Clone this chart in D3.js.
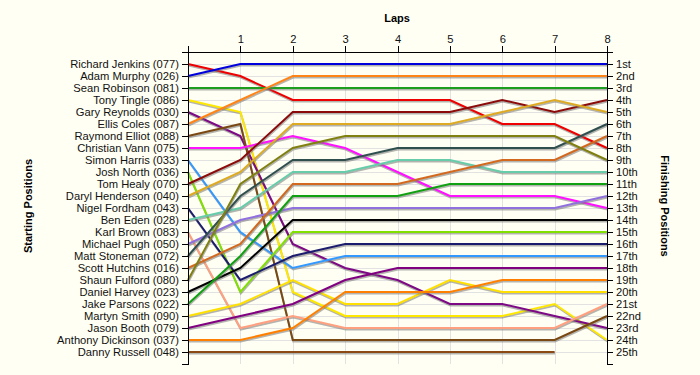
<!DOCTYPE html>
<html>
<head>
<meta charset="utf-8" />
<title>Race positions</title>
<style>
    body { margin: 0; background: #fffff4; }
    svg { display: block; font-family: "Liberation Sans", Arial, sans-serif; }
    .axis text { font-size: 11.2px; fill: #111; }
    .axis path, .axis line { stroke: #000; shape-rendering: crispEdges; }
    .grid line { stroke: #e2e2e2; shape-rendering: crispEdges; }
    .title { font-size: 11px; font-weight: bold; fill: #000; }
</style>
</head>
<body>
<svg width="700" height="375"></svg>
<script src="https://cdn.jsdelivr.net/npm/d3@7"></script>
<script>

var laps = [0, 1, 2, 3, 4, 5, 6, 7, 8];

var drivers = [
    'Richard Jenkins (077)', 'Adam Murphy (026)', 'Sean Robinson (081)', 'Tony Tingle (086)',
    'Gary Reynolds (030)', 'Ellis Coles (087)', 'Raymond Elliot (088)', 'Christian Vann (075)',
    'Simon Harris (033)', 'Josh North (036)', 'Tom Healy (070)', 'Daryl Henderson (040)',
    'Nigel Fordham (043)', 'Ben Eden (028)', 'Karl Brown (083)', 'Michael Pugh (050)',
    'Matt Stoneman (072)', 'Scott Hutchins (016)', 'Shaun Fulford (080)', 'Daniel Harvey (023)',
    'Jake Parsons (022)', 'Martyn Smith (090)', 'Jason Booth (079)', 'Anthony Dickinson (037)',
    'Danny Russell (048)'
];

var finishLabels = [
    '1st', '2nd', '3rd', '4th', '5th', '6th', '7th', '8th', '9th', '10th', '11th', '12th', '13th',
    '14th', '15th', '16th', '17th', '18th', '19th', '20th', '21st', '22nd', '23rd', '24th', '25th'
];

// position of each driver after each lap (lap 0 = start)
var positions = [
    [1, 2, 4, 4, 4, 4, 6, 6, 8],
    [2, 1, 1, 1, 1, 1, 1, 1, 1],
    [3, 3, 3, 3, 3, 3, 3, 3, 3],
    [4, 5, 20, 22, 22, 22, 22, 21, 24],
    [5, 7, 16, 18, 19, 21, 21, 22, 23],
    [6, 4, 2, 2, 2, 2, 2, 2, 2],
    [7, 6, 24, 24, 24, 24, 24, 24, 22],
    [8, 8, 7, 8, 10, 12, 12, 12, 13],
    [9, 15, 18, 17, 17, 17, 17, 17, 17],
    [10, 20, 15, 15, 15, 15, 15, 15, 15],
    [11, 9, 5, 5, 5, 5, 4, 5, 4],
    [12, 10, 6, 6, 6, 6, 5, 4, 5],
    [13, 19, 17, 16, 16, 16, 16, 16, 16],
    [14, 13, 10, 10, 9, 9, 10, 10, 10],
    [15, 23, 22, 23, 23, 23, 23, 23, 21],
    [16, 14, 13, 13, 13, 13, 13, 13, 12],
    [17, 12, 9, 9, 8, 8, 8, 8, 6],
    [18, 16, 11, 11, 11, 10, 9, 9, 7],
    [19, 11, 8, 7, 7, 7, 7, 7, 9],
    [20, 18, 14, 14, 14, 14, 14, 14, 14],
    [21, 17, 12, 12, 12, 11, 11, 11, 11],
    [22, 21, 19, 21, 21, 19, 20, 20, 20],
    [23, 22, 21, 19, 18, 18, 18, 18, 18],
    [24, 24, 23, 20, 20, 20, 19, 19, 19],
    [25, 25, 25, 25, 25, 25, 25, 25]
];

var colors = [
    '#ee0000', '#0000dd', '#1e9e1e', '#ffe800', '#7d0a84', '#ff8418', '#7a4812', '#ff10ff',
    '#3399ff', '#80e000', '#8b0a0a', '#ddaa22', '#1c1c6e', '#66ccaa', '#ffa080', '#9070dd',
    '#2f4f4f', '#d2691e', '#808010', '#000000', '#10a010', '#ffe000', '#800080', '#ff8000',
    '#8b4a14'
];

var svg = d3.select('svg');

var x = d3.scaleLinear().domain([0, 8]).range([188, 607]);
var y = d3.scaleLinear().domain([0, 26]).range([52, 364]);

// grid
var grid = svg.append('g').attr('class', 'grid');
grid.selectAll('.h')
    .data(d3.range(1, 26))
    .enter()
    .append('line')
    .attr('x1', x(0)).attr('x2', x(8))
    .attr('y1', function (d) { return Math.round(y(d)) + 0.5; })
    .attr('y2', function (d) { return Math.round(y(d)) + 0.5; });
grid.selectAll('.v')
    .data(d3.range(1, 8))
    .enter()
    .append('line')
    .attr('y1', y(0)).attr('y2', y(26))
    .attr('x1', function (d) { return Math.round(x(d)) + 0.5; })
    .attr('x2', function (d) { return Math.round(x(d)) + 0.5; });

var line = d3.line()
    .x(function (d, i) { return x(laps[i]); })
    .y(function (d) { return y(d); });

var series = svg.append('g')
    .selectAll('g')
    .data(positions)
    .enter()
    .append('g');

series.append('path')
    .attr('d', line)
    .attr('fill', 'none')
    .attr('stroke', '#777')
    .attr('stroke-opacity', 0.55)
    .attr('stroke-width', 2)
    .attr('transform', 'translate(0.5,1.5)');

series.append('path')
    .attr('d', line)
    .attr('fill', 'none')
    .attr('stroke', function (d, i) { return colors[i]; })
    .attr('stroke-width', 2);

// axes
svg.append('g')
    .attr('class', 'axis')
    .attr('transform', 'translate(' + x(0) + ',0)')
    .call(d3.axisLeft(y)
        .tickValues(d3.range(1, 26))
        .tickFormat(function (d) { return drivers[d - 1]; }));

svg.append('g')
    .attr('class', 'axis')
    .attr('transform', 'translate(' + x(8) + ',0)')
    .call(d3.axisRight(y)
        .tickValues(d3.range(1, 26))
        .tickFormat(function (d) { return finishLabels[d - 1]; }));

svg.append('g')
    .attr('class', 'axis')
    .attr('transform', 'translate(0,' + y(0) + ')')
    .call(d3.axisTop(x)
        .tickValues(laps)
        .tickFormat(function (d) { return d === 0 ? '' : d; }));

svg.append('text')
    .attr('class', 'title')
    .attr('x', 397).attr('y', 22)
    .attr('text-anchor', 'middle')
    .text('Laps');

svg.append('text')
    .attr('class', 'title')
    .attr('transform', 'translate(32,206) rotate(-90)')
    .attr('text-anchor', 'middle')
    .text('Starting Positions');

svg.append('text')
    .attr('class', 'title')
    .attr('transform', 'translate(661,206) rotate(90)')
    .attr('text-anchor', 'middle')
    .text('Finishing Positions');

</script>
</body>
</html>
